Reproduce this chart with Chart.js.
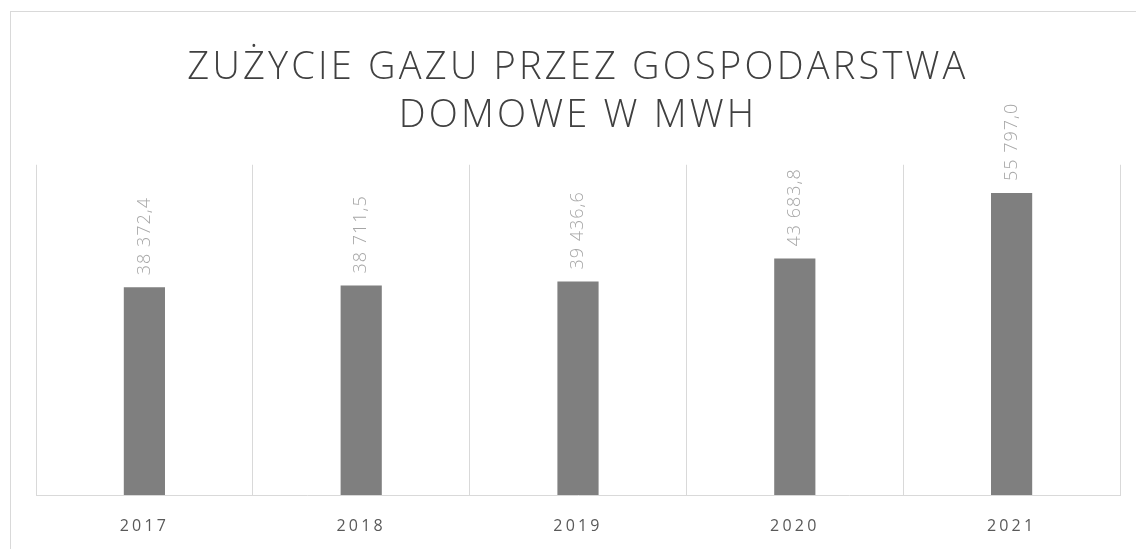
<!DOCTYPE html>
<html>
<head>
<meta charset="utf-8">
<script src="https://cdn.jsdelivr.net/npm/chart.js@4/dist/chart.umd.min.js"></script>
<style>
  html, body { margin: 0; padding: 0; background: #fff; }
  #wrap { width: 1136px; height: 549px; }
</style>
</head>
<body>
<div id="wrap"><canvas id="myChart" width="1136" height="549"></canvas></div>
<script>
const years = ['2017', '2018', '2019', '2020', '2021']
const gasMWh = [38372.4, 38711.5, 39436.6, 43683.8, 55797.0]
const titleLines = ['ZUŻYCIE GAZU PRZEZ GOSPODARSTWA', 'DOMOWE W MWH']

// liczby w stylu polskim: 38 372,4
function fmt(v) {
  let parts = v.toFixed(1).split('.')
  let whole = parts[0].replace(/\B(?=(\d{3})+(?!\d))/g, ' ')
  return whole + ',' + parts[1]
}

// ramka wykresu + rozstrzelony tekst (tytul, osie)
const framePlugin = {
  id: 'frame',
  beforeDraw(chart) {
    let c = chart.ctx
    c.save()
    c.strokeStyle = '#d9d9d9'
    c.lineWidth = 1
    c.strokeRect(10.5, 11.5, 1140, 560)
    c.restore()
    c.letterSpacing = '3.2px'
  }
}

// etykiety wartosci, obrocone pionowo nad slupkami
const labelPlugin = {
  id: 'valLabels',
  afterDatasetsDraw(chart) {
    let c = chart.ctx
    let meta = chart.getDatasetMeta(0)
    c.save()
    c.fillStyle = '#a6a6a6'
    c.font = '300 18px "Open Sans"'
    c.letterSpacing = '1px'
    c.textAlign = 'left'
    c.textBaseline = 'middle'
    meta.data.forEach((bar, i) => {
      c.save()
      c.translate(bar.x, bar.y - 12)
      c.rotate(-Math.PI / 2)
      c.fillText(fmt(gasMWh[i]), 0, 0)
      c.restore()
    })
    c.restore()
  }
}

const ctx = document.getElementById('myChart').getContext('2d')
const myChart = new Chart(ctx, {
  type: 'bar',
  data: {
    labels: years,
    datasets: [{
      label: 'Zużycie gazu',
      data: gasMWh,
      backgroundColor: '#7f7f7f',
      categoryPercentage: 1,
      barPercentage: 0.19
    }]
  },
  options: {
    responsive: false,
    animation: false,
    layout: { padding: { left: 36, right: 16, top: 0, bottom: 14 } },
    plugins: {
      legend: { display: false },
      tooltip: { enabled: false },
      title: {
        display: true,
        text: titleLines,
        color: '#404040',
        font: { family: '"Open Sans"', size: 38, weight: 300, lineHeight: 1.26 },
        padding: { top: 44, bottom: 25 }
      }
    },
    scales: {
      x: {
        afterFit(scale) { scale.height = 40 },
        grid: {
          offset: true,
          color: '#d9d9d9',
          drawTicks: false
        },
        border: { color: '#d9d9d9' },
        ticks: {
          color: '#595959',
          font: { family: '"Open Sans"', size: 16 },
          padding: 22
        }
      },
      y: {
        display: false,
        min: 0,
        max: 61000
      }
    }
  },
  plugins: [framePlugin, labelPlugin]
})
</script>
</body>
</html>
